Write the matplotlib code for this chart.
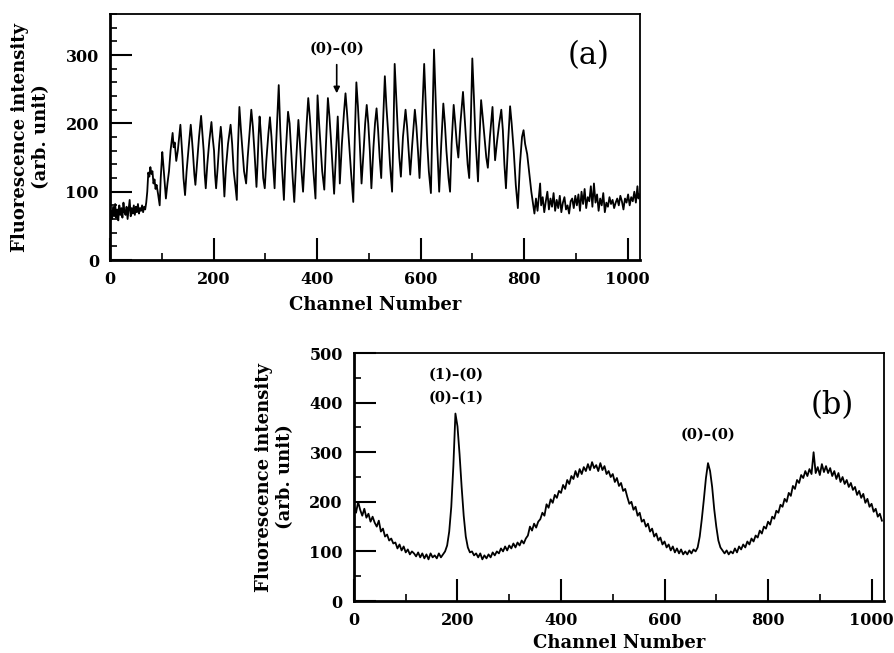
import numpy as np
import matplotlib
matplotlib.use("Agg")
import matplotlib.pyplot as plt
from matplotlib.ticker import MultipleLocator

plt.rcParams['font.family'] = ['DejaVu Serif']
plt.rcParams['font.weight'] = 'bold'

# ---- panel (a): vertices (channel, intensity) ----
pts_a = [
    (0, 52), (2, 72), (4, 60), (6, 78), (8, 64), (10, 82), (12, 62), (14, 74), (16, 58), (18, 80),
    (20, 66), (22, 76), (24, 62), (26, 84), (28, 70), (30, 66), (32, 78), (34, 60), (36, 74), (38, 88),
    (40, 64), (42, 76), (44, 68), (46, 80), (48, 66), (50, 78), (52, 70), (54, 82), (56, 68), (58, 76),
    (60, 72), (62, 80), (64, 70), (66, 78), (68, 74), (70, 84),
    (72, 100), (74, 128), (76, 122), (78, 136), (80, 126), (82, 130), (84, 112), (86, 118), (88, 104),
    (90, 110), (93, 96), (96, 80), (98, 120), (101, 158), (103, 140), (105, 120), (108, 90), (111, 112),
    (114, 130), (117, 160), (121, 186), (123, 165), (125, 172), (128, 145), (131, 160), (136, 198),
    (138, 175), (140, 150), (142, 120), (145, 95), (148, 130), (152, 165), (156, 198), (158, 180),
    (160, 160), (163, 125), (165, 110), (168, 140), (172, 180), (176, 211), (178, 190), (181, 160),
    (183, 125), (185, 105), (188, 140), (192, 175), (196, 202), (198, 182), (201, 160), (203, 125),
    (205, 105), (208, 135), (211, 170), (214, 195), (216, 178), (218, 140), (221, 93), (224, 135),
    (228, 170), (233, 198), (236, 170), (239, 130), (242, 110), (245, 88), (247, 160), (250, 224),
    (253, 190), (256, 160), (259, 130), (263, 112), (266, 150), (270, 190), (273, 220), (276, 195),
    (279, 160), (283, 107), (285, 140), (287, 180), (289, 210), (291, 190), (294, 150), (296, 120),
    (299, 105), (302, 145), (306, 185), (309, 209), (312, 180), (315, 140), (318, 105), (321, 170),
    (326, 256), (329, 190), (332, 140), (336, 88), (339, 150), (344, 217), (347, 200), (350, 160),
    (353, 120), (356, 85), (360, 150), (364, 205), (367, 170), (370, 130), (373, 100), (377, 160),
    (380, 200), (383, 237), (386, 210), (389, 175), (393, 130), (397, 90), (399, 170), (401, 241),
    (404, 200), (407, 165), (410, 130), (414, 103), (417, 165), (421, 237), (424, 210), (427, 175),
    (430, 135), (433, 97), (437, 160), (440, 210), (442, 170), (444, 112), (448, 170), (452, 215),
    (455, 244), (458, 215), (462, 170), (466, 125), (470, 85), (473, 180), (476, 260), (479, 225),
    (482, 180), (486, 112), (490, 160), (493, 200), (496, 227), (499, 200), (502, 160), (505, 105),
    (509, 165), (512, 200), (515, 222), (518, 190), (521, 150), (524, 120), (527, 190), (531, 269),
    (534, 225), (538, 180), (541, 140), (545, 100), (548, 200), (550, 287), (553, 240), (556, 190),
    (559, 150), (562, 122), (566, 180), (571, 220), (574, 195), (577, 160), (580, 125), (584, 170),
    (589, 220), (592, 195), (595, 160), (598, 120), (602, 190), (607, 287), (610, 230), (613, 170),
    (616, 130), (620, 98), (623, 200), (626, 308), (629, 240), (632, 170), (636, 100), (640, 170),
    (644, 229), (647, 200), (650, 160), (654, 120), (657, 100), (660, 170), (664, 227), (667, 200),
    (670, 170), (673, 150), (677, 200), (682, 246), (685, 210), (688, 172), (691, 140), (694, 120),
    (697, 200), (700, 295), (703, 240), (706, 180), (709, 140), (711, 115), (714, 180), (717, 234),
    (720, 210), (724, 175), (727, 150), (730, 135), (734, 180), (739, 224), (741, 190), (744, 146),
    (748, 175), (752, 200), (756, 220), (759, 190), (762, 140), (765, 105), (769, 170), (773, 225),
    (776, 200), (780, 160), (784, 110), (788, 76), (792, 140), (796, 180), (799, 190), (802, 170),
    (806, 155), (810, 127), (814, 100), (818, 78), (820, 68),
    (823, 90), (826, 72), (829, 96), (831, 112), (833, 80), (836, 92), (839, 70), (842, 86), (845, 100),
    (848, 74), (851, 90), (854, 78), (857, 98), (860, 72), (863, 88), (866, 76), (869, 94), (872, 70),
    (875, 84), (878, 92), (881, 74), (884, 80), (887, 68), (890, 86), (893, 90), (896, 76), (899, 94),
    (902, 80), (905, 96), (908, 72), (911, 100), (914, 82), (917, 104), (920, 76), (923, 92), (926, 86),
    (929, 108), (932, 78), (935, 112), (938, 84), (941, 96), (944, 72), (947, 90), (950, 80), (953, 98),
    (956, 70), (959, 84), (962, 78), (965, 92), (968, 82), (971, 88), (974, 76), (977, 84), (980, 90),
    (983, 80), (986, 94), (989, 86), (992, 74), (995, 90), (998, 84), (1001, 96), (1004, 80), (1007, 92),
    (1010, 86), (1013, 100), (1016, 84), (1019, 108), (1021, 90), (1023, 96),
]
chan_a = [p[0] for p in pts_a]
inten_a = [p[1] for p in pts_a]

# ---- panel (b): intensity read every 4 channels ----
chan_b = np.arange(0, 1024, 4)
inten_b = [
    192, 178, 200, 184, 172, 186, 168, 176, 160, 170,
    158, 150, 162, 140, 146, 130, 134, 122, 126, 116,
    118, 106, 114, 102, 110, 98, 104, 94, 100, 96,
    90, 98, 88, 96, 86, 94, 84, 96, 88, 92,
    86, 96, 88, 94, 100, 112, 140, 190, 272, 378,
    352, 296, 230, 172, 130, 108, 98, 100, 92, 96,
    88, 96, 84, 92, 86, 94, 88, 98, 92, 100,
    96, 106, 100, 110, 102, 112, 106, 116, 108, 118,
    112, 122, 116, 126, 132, 150, 142, 156, 148, 160,
    165, 178, 172, 195, 188, 205, 198, 214, 208, 222,
    218, 234, 226, 244, 236, 252, 246, 262, 250, 266,
    256, 270, 262, 276, 264, 280, 268, 274, 262, 278,
    264, 272, 256, 262, 250, 256, 240, 248, 232, 238,
    222, 226, 210, 196, 200, 184, 190, 172, 178, 160,
    164, 150, 156, 140, 146, 130, 136, 122, 128, 114,
    120, 108, 114, 102, 110, 98, 106, 96, 104, 94,
    100, 94, 102, 96, 104, 100, 108, 130, 165, 205,
    248, 278, 262, 230, 185, 150, 122, 108, 102, 96,
    102, 94, 100, 96, 106, 98, 110, 104, 114, 108,
    120, 114, 126, 120, 132, 128, 142, 136, 150, 146,
    160, 154, 170, 166, 182, 178, 194, 190, 206, 200,
    218, 212, 232, 226, 244, 238, 254, 248, 262, 252,
    266, 256, 300, 258, 270, 254, 276, 260, 272, 258,
    268, 252, 262, 246, 258, 240, 250, 236, 244, 230,
    238, 224, 230, 214, 222, 208, 216, 198, 206, 190,
    196, 180, 186, 170, 176, 162,
]

ylabel_txt = "Fluorescence intensity\n(arb. unit)"
xlabel_txt = "Channel Number"


def style_axes(ax, ymax, ymajor, yminor):
    ax.set_xlim(0, 1024)
    ax.set_ylim(0, ymax)
    ax.xaxis.set_major_locator(MultipleLocator(200))
    ax.xaxis.set_minor_locator(MultipleLocator(100))
    ax.yaxis.set_major_locator(MultipleLocator(ymajor))
    ax.yaxis.set_minor_locator(MultipleLocator(yminor))
    ax.tick_params(which='both', direction='in', top=False, right=False, labelsize=11.5)
    ax.tick_params(which='major', length=15.5, width=1.5, pad=8)
    ax.tick_params(which='minor', length=5, width=1.2)
    for s in ax.spines.values():
        s.set_linewidth(1.3)
    ax.spines['left'].set_linewidth(2)
    ax.spines['bottom'].set_linewidth(2)
    ax.text(-0.15, 0.5, ylabel_txt, rotation=90, ha='center', va='center',
            multialignment='center', fontsize=13, linespacing=1.2, transform=ax.transAxes)


fig = plt.figure(figsize=(8.95, 6.53), dpi=100)
ax_a = fig.add_axes([0.1229, 0.6018, 0.5922, 0.3767])
ax_b = fig.add_axes([0.3955, 0.0796, 0.5922, 0.3798])

ax_a.plot(chan_a, inten_a, color='black', lw=1.3)
style_axes(ax_a, 360, 100, 20)
ax_a.text(0.5, -0.183, xlabel_txt, ha='center', va='center', fontsize=13, transform=ax_a.transAxes)
ax_a.annotate('', xy=(438, 240), xytext=(438, 290),
              arrowprops=dict(arrowstyle='-|>', color='black', lw=1.2, mutation_scale=9))
ax_a.text(438, 310, "(0)–(0)", ha='center', va='center', fontsize=10.5)
ax_a.text(925, 300, "(a)", ha='center', va='center', fontsize=22, fontweight='normal')

ax_b.plot(chan_b, inten_b, color='black', lw=1.3)
style_axes(ax_b, 500, 100, 50)
ax_b.text(0.5, -0.169, xlabel_txt, ha='center', va='center', fontsize=13, transform=ax_b.transAxes)
ax_b.text(198, 456, "(1)–(0)", ha='center', va='center', fontsize=10.5)
ax_b.text(198, 411, "(0)–(1)", ha='center', va='center', fontsize=10.5)
ax_b.text(684, 335, "(0)–(0)", ha='center', va='center', fontsize=10.5)
ax_b.text(925, 395, "(b)", ha='center', va='center', fontsize=22, fontweight='normal')

fig.savefig("out.png", dpi=100)
